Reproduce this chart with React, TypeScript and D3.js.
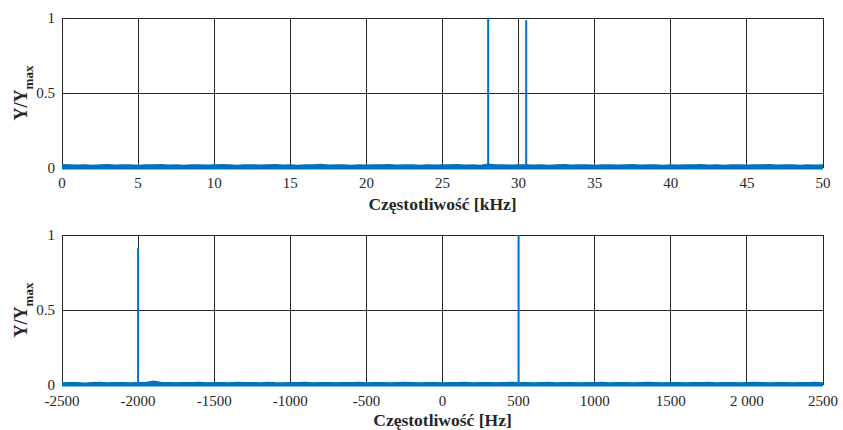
import React from 'react';
import * as d3 from 'd3';

// ---------- data ----------
const topTicks = [0, 5, 10, 15, 20, 25, 30, 35, 40, 45, 50];
const topTickLabels = ['0', '5', '10', '15', '20', '25', '30', '35', '40', '45', '50'];
const bottomTicks = [-2500, -2000, -1500, -1000, -500, 0, 500, 1000, 1500, 2000, 2500];
const bottomTickLabels = ['-2500', '-2000', '-1500', '-1000', '-500', '0', '500', '1000', '1500', '2 000', '2500'];
const yTicks = [0, 0.5, 1];
const yTickLabels = ['0', '0.5', '1'];

const topPeakFreqs = [28, 30.5];
const topPeakAmps = [1.0, 0.985];
const bottomPeakFreqs = [-2000, 500];
const bottomPeakAmps = [0.915, 1.0];

// noise floor, 0..50 kHz (101 bins)
const topNoise = [
  0.021, 0.019, 0.018, 0.020, 0.017, 0.019, 0.022, 0.018, 0.020, 0.019,
  0.017, 0.020, 0.019, 0.021, 0.018, 0.019, 0.017, 0.020, 0.019, 0.018,
  0.020, 0.021, 0.019, 0.017, 0.019, 0.020, 0.018, 0.019, 0.021, 0.018,
  0.019, 0.017, 0.020, 0.019, 0.023, 0.018, 0.019, 0.020, 0.017, 0.019,
  0.018, 0.020, 0.019, 0.021, 0.018, 0.019, 0.020, 0.017, 0.019, 0.018,
  0.020, 0.019, 0.021, 0.018, 0.019, 0.017, 0.025, 0.020, 0.019, 0.018,
  0.020, 0.019, 0.018, 0.020, 0.017, 0.019, 0.021, 0.018, 0.020, 0.019,
  0.017, 0.020, 0.019, 0.018, 0.019, 0.021, 0.018, 0.019, 0.020, 0.017,
  0.019, 0.018, 0.020, 0.019, 0.021, 0.018, 0.019, 0.017, 0.020, 0.019,
  0.018, 0.020, 0.019, 0.021, 0.018, 0.019, 0.020, 0.017, 0.019, 0.018,
  0.020,
];

// noise floor, -2500..2500 Hz (101 bins)
const bottomNoise = [
  0.013, 0.015, 0.014, 0.012, 0.014, 0.016, 0.013, 0.014, 0.015, 0.013,
  0.014, 0.015, 0.024, 0.016, 0.014, 0.013, 0.015, 0.014, 0.016, 0.013,
  0.014, 0.015, 0.013, 0.016, 0.014, 0.015, 0.013, 0.017, 0.014, 0.013,
  0.015, 0.014, 0.016, 0.013, 0.015, 0.014, 0.013, 0.015, 0.014, 0.016,
  0.013, 0.014, 0.015, 0.013, 0.014, 0.016, 0.014, 0.013, 0.015, 0.014,
  0.013, 0.015, 0.014, 0.016, 0.013, 0.014, 0.015, 0.013, 0.014, 0.016,
  0.014, 0.015, 0.013, 0.014, 0.016, 0.013, 0.015, 0.014, 0.013, 0.015,
  0.014, 0.016, 0.013, 0.014, 0.015, 0.013, 0.014, 0.016, 0.014, 0.013,
  0.015, 0.014, 0.013, 0.015, 0.014, 0.016, 0.013, 0.014, 0.015, 0.013,
  0.014, 0.016, 0.014, 0.013, 0.015, 0.014, 0.013, 0.015, 0.014, 0.016,
  0.013,
];

const BLUE = '#0072BD';
const GRID = '#262626';
const FONT = '"Liberation Serif", "Times New Roman", serif';

type PanelProps = {
  top: number;
  bottom: number;
  domain: [number, number];
  ticks: number[];
  tickLabels: string[];
  noise: number[];
  peakFreqs: number[];
  peakAmps: number[];
  title: string;
  tickLabelY: number;
  titleY: number;
};

const LEFT = 62;
const RIGHT = 823;

function Panel(p: PanelProps) {
  const x = d3.scaleLinear().domain(p.domain).range([LEFT, RIGHT]);
  const y = d3.scaleLinear().domain([0, 1]).range([p.bottom, p.top]);
  const idx = d3.scaleLinear().domain([0, p.noise.length - 1]).range(p.domain);
  const area = d3
    .area<number>()
    .x((_, i) => x(idx(i)))
    .y0(() => y(0) + 1.5)
    .y1((d) => y(d));
  const line = d3
    .line<number>()
    .x((_, i) => x(idx(i)))
    .y((d) => y(d));
  const midY = (p.top + p.bottom) / 2;
  return (
    <g>
      {p.ticks.map((t) => (
        <line key={'gx' + t} x1={x(t)} x2={x(t)} y1={p.top} y2={p.bottom} stroke={GRID} strokeWidth={1} shapeRendering="crispEdges" />
      ))}
      {yTicks.map((t) => (
        <line key={'gy' + t} x1={LEFT} x2={RIGHT} y1={y(t)} y2={y(t)} stroke={GRID} strokeWidth={1} shapeRendering="crispEdges" />
      ))}
      <path d={area(p.noise) || ''} fill={BLUE} />
      <path d={line(p.noise) || ''} fill="none" stroke={BLUE} strokeWidth={1.6} />
      {p.peakFreqs.map((f, i) => (
        <line key={'pk' + i} x1={x(f)} x2={x(f)} y1={y(0)} y2={y(p.peakAmps[i])} stroke={BLUE} strokeWidth={2} />
      ))}
      {yTicks.map((t, i) => (
        <text key={'yl' + t} x={LEFT - 7} y={y(t)} dy="0.35em" textAnchor="end" fontFamily={FONT} fontSize={15} fill="#262626">
          {yTickLabels[i]}
        </text>
      ))}
      {p.ticks.map((t, i) => (
        <text key={'xl' + t} x={x(t)} y={p.tickLabelY} textAnchor="middle" fontFamily={FONT} fontSize={15} fill="#262626">
          {p.tickLabels[i]}
        </text>
      ))}
      <text x={(LEFT + RIGHT) / 2} y={p.titleY} textAnchor="middle" fontFamily={FONT} fontSize={17.5} fontWeight="bold" fill="#262626">
        {p.title}
      </text>
      <text transform={`translate(27,${midY}) rotate(-90)`} textAnchor="middle" fontFamily={FONT} fontWeight="bold" fill="#262626">
        <tspan fontSize={18}>Y/Y</tspan>
        <tspan fontSize={13} dy={6}>max</tspan>
      </text>
    </g>
  );
}

export default function App() {
  return (
    <svg width={843} height={430} style={{ position: 'absolute', left: 0, top: 0, background: '#fff' }}>
      <rect x={0} y={0} width={843} height={430} fill="#fff" />
      <Panel
        top={18}
        bottom={168}
        domain={[0, 50]}
        ticks={topTicks}
        tickLabels={topTickLabels}
        noise={topNoise}
        peakFreqs={topPeakFreqs}
        peakAmps={topPeakAmps}
        title="Częstotliwość [kHz]"
        tickLabelY={188}
        titleY={210}
      />
      <Panel
        top={235}
        bottom={385}
        domain={[-2500, 2500]}
        ticks={bottomTicks}
        tickLabels={bottomTickLabels}
        noise={bottomNoise}
        peakFreqs={bottomPeakFreqs}
        peakAmps={bottomPeakAmps}
        title="Częstotliwość [Hz]"
        tickLabelY={406}
        titleY={426}
      />
    </svg>
  );
}
